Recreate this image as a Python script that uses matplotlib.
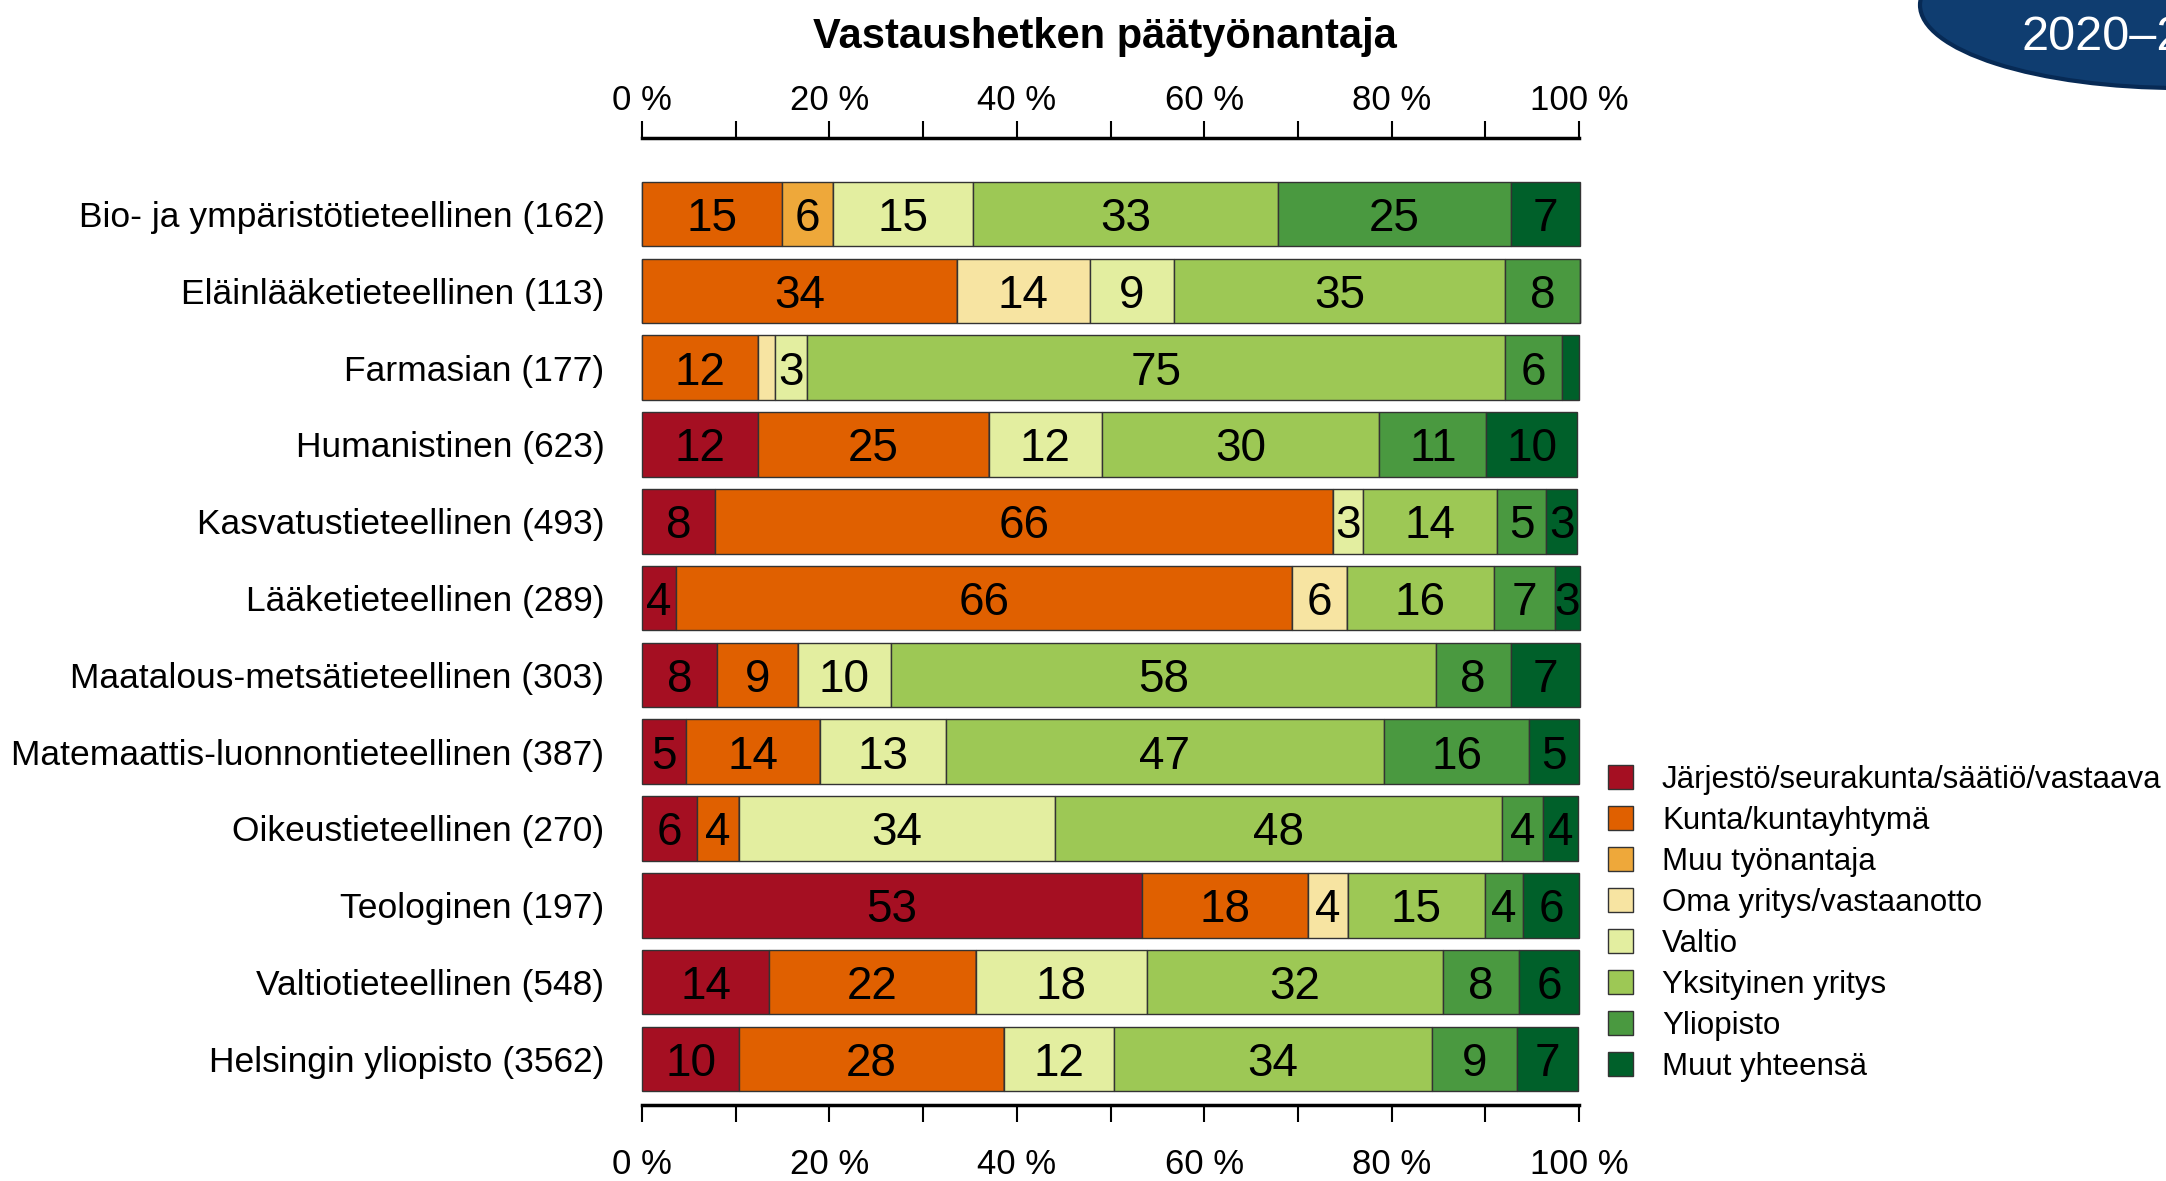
import matplotlib
matplotlib.use("Agg")
import matplotlib.pyplot as plt
from matplotlib.patches import Patch, Ellipse

plt.rcParams['font.family'] = ['Liberation Sans', 'DejaVu Sans']

# tiedekunnat (vastaajamäärä)
tiedekunnat = [
    "Bio- ja ympäristötieteellinen (162)",
    "Eläinlääketieteellinen (113)",
    "Farmasian (177)",
    "Humanistinen (623)",
    "Kasvatustieteellinen (493)",
    "Lääketieteellinen (289)",
    "Maatalous-metsätieteellinen (303)",
    "Matemaattis-luonnontieteellinen (387)",
    "Oikeustieteellinen (270)",
    "Teologinen (197)",
    "Valtiotieteellinen (548)",
    "Helsingin yliopisto (3562)",
]

luokat = [
    "Järjestö/seurakunta/säätiö/vastaava",
    "Kunta/kuntayhtymä",
    "Muu työnantaja",
    "Oma yritys/vastaanotto",
    "Valtio",
    "Yksityinen yritys",
    "Yliopisto",
    "Muut yhteensä",
]

# osuudet prosentteina, luettu kuvasta
jarjesto   = [0, 0, 0, 12.4, 7.8, 3.6, 8.0, 4.7, 5.9, 53.4, 13.6, 10.4]
kunta      = [14.9, 33.6, 12.4, 24.6, 65.9, 65.8, 8.6, 14.3, 4.4, 17.7, 22.0, 28.2]
muu        = [5.5, 0, 0, 0, 0, 0, 0, 0, 0, 0, 0, 0]
oma        = [0, 14.2, 1.8, 0, 0, 5.8, 0, 0, 0, 4.2, 0, 0]
valtio     = [14.9, 9.0, 3.4, 12.1, 3.2, 0, 10.0, 13.4, 33.8, 0, 18.3, 11.8]
yksityinen = [32.6, 35.3, 74.5, 29.6, 14.4, 15.7, 58.1, 46.8, 47.7, 14.7, 31.6, 33.9]
yliopisto  = [24.8, 8.0, 6.1, 11.4, 5.2, 6.5, 8.0, 15.5, 4.4, 4.0, 8.1, 9.1]
muut       = [7.4, 0, 1.8, 9.7, 3.3, 2.7, 7.4, 5.3, 3.7, 6.0, 6.4, 6.5]

sarjat = [jarjesto, kunta, muu, oma, valtio, yksityinen, yliopisto, muut]
varit = ["#a50f22", "#e06000", "#eea83a", "#f7e4a2", "#e3eea0",
         "#9dc855", "#4a9940", "#00602a"]

fig = plt.figure(figsize=(21.66, 11.81), dpi=100)
ax = fig.add_axes([0.2964, 0.0644, 0.4326, 0.8187])

y = list(range(len(tiedekunnat)))
vasen = [0.0] * len(tiedekunnat)
for arvot, vari in zip(sarjat, varit):
    ax.barh(y, arvot, left=vasen, height=0.84, color=vari,
            edgecolor="#333333", linewidth=1.0, clip_on=False)
    for i, v in enumerate(arvot):
        if v >= 2.5:
            ax.text(vasen[i] + v / 2, i, str(int(v + 0.5)), ha="center",
                    va="center_baseline", fontsize=33, color="black")
    vasen = [a + b for a, b in zip(vasen, arvot)]

ax.set_xlim(0, 100)
ax.set_ylim(11.6, -0.99)
ax.set_yticks(y)
ax.set_yticklabels(tiedekunnat, fontsize=25.5)
ax.tick_params(axis="y", length=0, pad=27)

for s in ["left", "right", "top"]:
    ax.spines[s].set_visible(False)
ax.spines["bottom"].set_linewidth(2.5)

paaticks = [0, 20, 40, 60, 80, 100]
sivuticks = [10, 30, 50, 70, 90]
tickteksti = [f"{t} %" for t in paaticks]

ax.set_xticks(paaticks)
ax.set_xticklabels(tickteksti, fontsize=25)
ax.set_xticks(sivuticks, minor=True)
ax.tick_params(axis="x", which="both", length=12, width=1.5, direction="out", pad=19)

ax2 = ax.twiny()
ax2.set_xlim(0, 100)
ax2.set_ylim(ax.get_ylim())
for s in ["left", "right", "bottom"]:
    ax2.spines[s].set_visible(False)
ax2.spines["top"].set_linewidth(2.5)
ax2.set_xticks(paaticks)
ax2.set_xticklabels(tickteksti, fontsize=25)
ax2.set_xticks(sivuticks, minor=True)
ax2.tick_params(axis="x", which="both", length=12, width=1.5, direction="out", pad=3)

fig.text(0.5102, 0.969, "Vastaushetken päätyönantaja", ha="center", va="center",
         fontsize=30, fontweight="bold")

kahvat = [Patch(facecolor=c, edgecolor="#333333", linewidth=1.0) for c in varit]
fig.legend(kahvat, luokat, loc="upper left", bbox_to_anchor=(0.7425, 0.352),
           frameon=False, fontsize=22.5, handlelength=0.8, handleheight=0.8,
           handletextpad=0.92, labelspacing=0.35, borderpad=0, borderaxespad=0)

# vuosimerkki oikeassa yläkulmassa
fig.add_artist(Ellipse((2180 / 2166, 1 - 5 / 1181), 520 / 2166, 166 / 1181,
                       transform=fig.transFigure, facecolor="#0f3d70",
                       edgecolor="#072a55", linewidth=3))
fig.text(2022 / 2166, 1 - 38 / 1181, "2020–2022", ha="left", va="center",
         fontsize=35, color="white")

fig.savefig("out.png", dpi=100)
